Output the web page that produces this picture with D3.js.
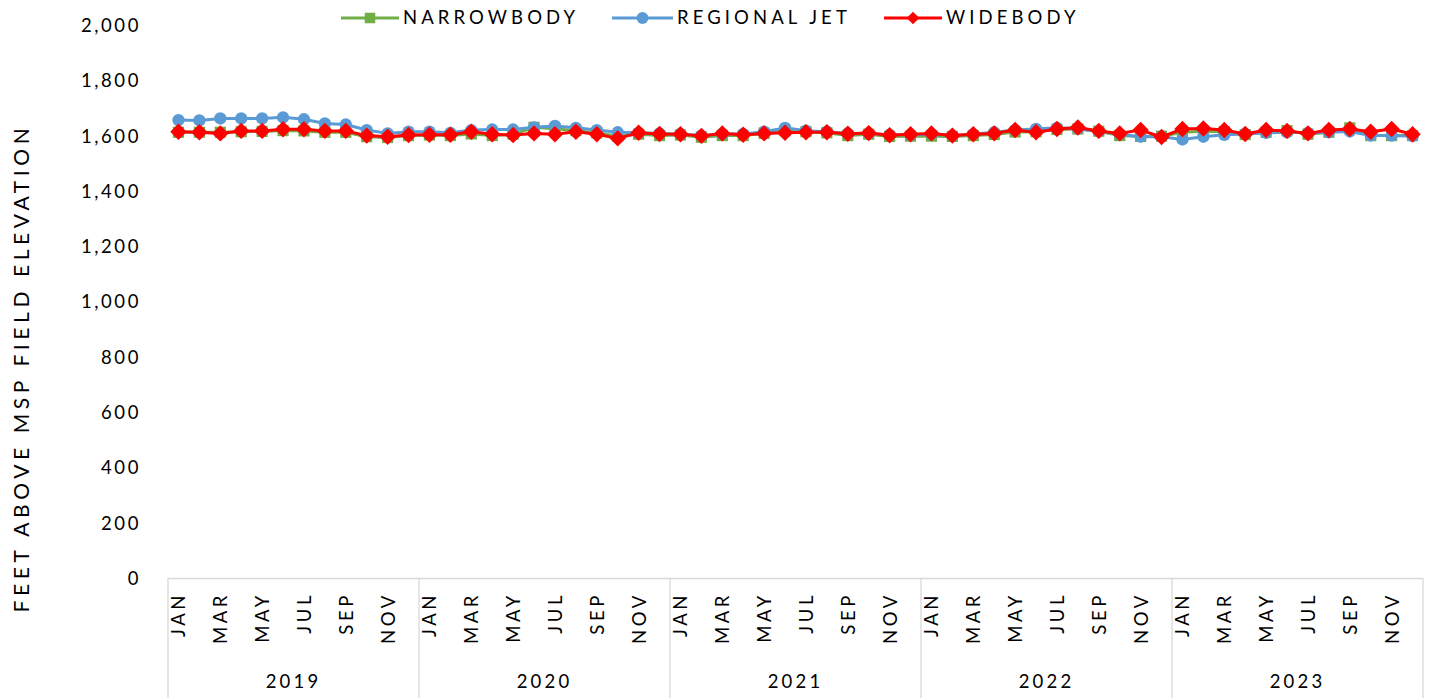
<!DOCTYPE html>
<html>
<head>
<meta charset="utf-8">
<script src="https://cdn.jsdelivr.net/npm/d3@7"></script>
<style>
  body { margin: 0; background: #fff; }
  text { font-family: Lato, "Open Sans", sans-serif; fill: #000; }
</style>
</head>
<body>
<svg width="1431" height="698"></svg>
<script>
const years = ["2019", "2020", "2021", "2022", "2023"];
const months = ["JAN","FEB","MAR","APR","MAY","JUN","JUL","AUG","SEP","OCT","NOV","DEC"];
const yTicks = [0, 200, 400, 600, 800, 1000, 1200, 1400, 1600, 1800, 2000];

// monthly values, Jan 2019 .. Dec 2023
const narrowbody = [
  1612,1612,1612,1614,1615,1618,1617,1612,1612,1596,1593,1600,
  1602,1600,1606,1600,1605,1630,1625,1618,1610,1598,1605,1600,
  1602,1594,1600,1600,1608,1618,1614,1610,1600,1605,1597,1598,
  1598,1597,1600,1604,1613,1614,1622,1624,1616,1600,1597,1598,
  1612,1616,1614,1604,1612,1618,1605,1612,1628,1600,1600,1600
];
const regionalJet = [
  1656,1655,1662,1662,1662,1666,1659,1644,1640,1620,1608,1614,
  1614,1610,1620,1622,1622,1630,1635,1628,1620,1612,1610,1608,
  1606,1600,1606,1606,1614,1628,1618,1614,1608,1608,1603,1603,
  1605,1600,1605,1612,1620,1624,1628,1625,1615,1605,1596,1596,
  1586,1596,1603,1606,1610,1612,1610,1612,1615,1600,1600,1598
];
const widebody = [
  1614,1612,1608,1617,1617,1623,1623,1617,1617,1600,1596,1602,
  1603,1603,1614,1605,1602,1608,1605,1614,1605,1590,1610,1606,
  1605,1599,1608,1603,1608,1610,1612,1612,1607,1609,1601,1605,
  1608,1600,1605,1608,1620,1612,1624,1629,1617,1608,1620,1595,
  1624,1626,1620,1606,1620,1617,1608,1620,1624,1614,1624,1605
];

const seriesNames = ["NARROWBODY", "REGIONAL JET", "WIDEBODY"];
const seriesColors = ["#70ad47", "#5b9bd5", "#ff0000"];
const seriesData = [narrowbody, regionalJet, widebody];

const svg = d3.select("svg");
const plotLeft = 168, plotRight = 1423, plotTop = 25, plotBottom = 578;

const cats = d3.range(years.length * months.length);
const x = d3.scaleBand().domain(cats).range([plotLeft, plotRight]).padding(0);
const y = d3.scaleLinear().domain([0, 2000]).range([plotBottom, plotTop]);
const cx = i => x(i) + x.bandwidth() / 2;

// y axis labels
const yAxis = svg.append("g")
    .attr("transform", `translate(${plotLeft},0)`)
    .call(d3.axisLeft(y).tickValues(yTicks).tickSize(0).tickPadding(27)
        .tickFormat(d3.format(",")));
yAxis.select(".domain").remove();
yAxis.selectAll("text")
    .style("font-size", "18.5px")
    .style("letter-spacing", "2.6px")
    .attr("dy", "0.35em");

svg.append("text")
    .attr("transform", `translate(29,368) rotate(-90)`)
    .attr("text-anchor", "middle")
    .style("font-size", "21px")
    .style("letter-spacing", "4.6px")
    .text("FEET ABOVE MSP FIELD ELEVATION");

// category axis box
const grid = svg.append("g").attr("stroke", "#d9d9d9").attr("stroke-width", 1.3);
grid.append("line")
    .attr("x1", plotLeft).attr("x2", plotRight).attr("y1", plotBottom + 0.5).attr("y2", plotBottom + 0.5);
years.forEach((yr, k) => {
  const x0 = x(k * 12);
  grid.append("line").attr("x1", x0).attr("x2", x0).attr("y1", plotBottom).attr("y2", 698);
});
grid.append("line").attr("x1", plotRight).attr("x2", plotRight).attr("y1", plotBottom).attr("y2", 698);

const xa = svg.append("g");
cats.filter(i => i % 2 === 0).forEach(i => {
  xa.append("text")
    .attr("transform", `translate(${cx(i) + 7},592) rotate(-90)`)
    .attr("text-anchor", "end")
    .style("font-size", "18.5px")
    .style("letter-spacing", "3.6px")
    .text(months[i % 12]);
});
years.forEach((yr, k) => {
  xa.append("text")
    .attr("x", (x(k * 12) + x(k * 12 + 11) + x.bandwidth()) / 2)
    .attr("y", 688)
    .attr("text-anchor", "middle")
    .style("font-size", "18.5px")
    .style("letter-spacing", "3.2px")
    .text(yr);
});

// series
const line = d3.line().x((d, i) => cx(i)).y(d => y(d));
// diamond = square turned 45 degrees
const symbols = [d3.symbolSquare, d3.symbolCircle, d3.symbolSquare];
const symbolSizes = [125, 120, 135];
const symbolRot = [0, 0, 45];

seriesData.forEach((vals, s) => {
  const g = svg.append("g");
  g.append("path")
    .attr("d", line(vals))
    .attr("fill", "none")
    .attr("stroke", seriesColors[s])
    .attr("stroke-width", 3)
    .attr("stroke-linejoin", "round");
  g.selectAll("path.m")
    .data(vals)
    .enter().append("path")
      .attr("class", "m")
      .attr("transform", (d, i) => `translate(${cx(i)},${y(d)}) rotate(${symbolRot[s]})`)
      .attr("d", d3.symbol().type(symbols[s]).size(symbolSizes[s]))
      .attr("fill", seriesColors[s]);
});

// legend
const legendX = [341, 612, 884];
const legendTextX = [403, 677, 946];
const leg = svg.append("g");
seriesNames.forEach((name, s) => {
  const lx = legendX[s];
  leg.append("line")
    .attr("x1", lx).attr("x2", legendTextX[s] - 4).attr("y1", 18).attr("y2", 18)
    .attr("stroke", seriesColors[s]).attr("stroke-width", 3);
  leg.append("path")
    .attr("transform", `translate(${(lx + legendTextX[s] - 4) / 2},18) rotate(${symbolRot[s]})`)
    .attr("d", d3.symbol().type(symbols[s]).size(s === 2 ? 80 : 110))
    .attr("fill", seriesColors[s]);
  leg.append("text")
    .attr("x", legendTextX[s]).attr("y", 18).attr("dy", "0.35em")
    .style("font-size", "18.5px")
    .style("letter-spacing", "4.1px")
    .text(name);
});
</script>
</body>
</html>
